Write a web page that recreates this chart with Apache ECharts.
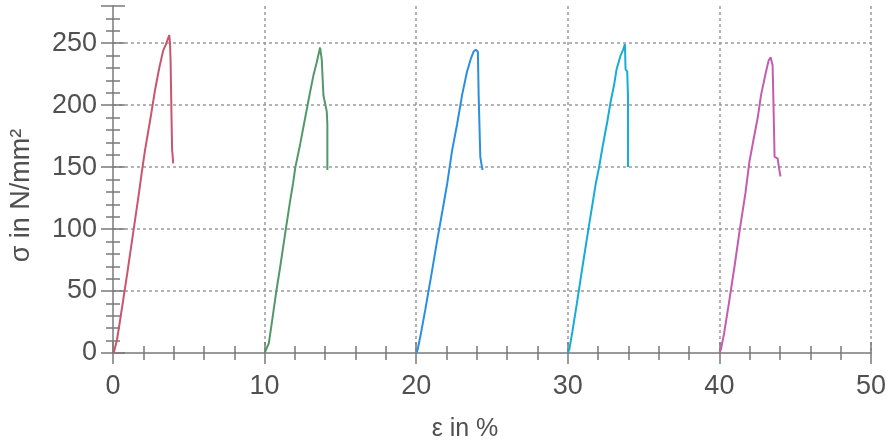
<!DOCTYPE html>
<html>
<head>
<meta charset="utf-8">
<script src="https://cdn.jsdelivr.net/npm/echarts@6/dist/echarts.min.js"></script>
<style>
  html, body { margin: 0; padding: 0; background: #fff; }
  #chart { width: 889px; height: 447px; }
</style>
</head>
<body>
<div id="chart"></div>
<script>
// strain (%) and stress (N/mm²), one pair of arrays per specimen
const eps1 = [0.05, 0.1, 0.26, 0.45, 0.7, 0.95, 1.2, 1.45, 1.7, 1.9, 2.11, 2.48, 2.77, 3.05, 3.31, 3.49, 3.71, 3.76, 3.80, 3.86, 3.90, 3.93, 3.97];
const sig1 = [0, 1.5, 10.5, 25, 45, 65, 86, 107, 128, 146, 163.5, 190, 212, 230, 244, 249, 256.6, 250, 235, 190, 163.5, 160, 153];

const eps2 = [10.0, 10.07, 10.28, 10.50, 10.76, 11.05, 11.37, 11.70, 11.88, 12.03, 12.35, 12.68, 12.96, 13.22, 13.44, 13.66, 13.77, 13.88, 14.10, 14.14, 14.14];
const sig2 = [0, 1.3, 7.9, 26.3, 48.8, 71.2, 97.5, 124, 137, 150, 168.7, 190, 208, 224, 234.6, 246.5, 237, 208, 195, 184.5, 147.6];

const eps3 = [20.0, 20.1, 20.3, 20.6, 21.0, 21.4, 21.75, 22.05, 22.37, 22.70, 23.03, 23.35, 23.62, 23.80, 23.94, 24.07, 24.12, 24.23, 24.34, 24.38];
const sig3 = [0, 3, 15, 35, 63, 92, 116, 137, 163.5, 184.6, 208.3, 227, 238, 243.5, 244.7, 243, 208, 158, 150, 147.7];

const eps4 = [30.0, 30.1, 30.3, 30.6, 31.0, 31.4, 31.85, 32.07, 32.29, 32.61, 32.83, 33.05, 33.22, 33.48, 33.66, 33.77, 33.81, 33.92, 33.97, 33.97];
const sig4 = [0, 3, 17, 40, 72, 103, 137, 150.3, 166, 187, 203, 216, 229, 240, 245, 249.2, 229, 227, 208, 150];

const eps5 = [40.0, 40.1, 40.3, 40.6, 41.0, 41.35, 41.72, 41.98, 42.2, 42.53, 42.75, 43.07, 43.25, 43.38, 43.51, 43.57, 43.64, 43.84, 43.94, 44.03];
const sig5 = [0, 3, 15, 38, 70, 100, 129.2, 154.3, 168.8, 190, 208.3, 226.8, 236, 238.6, 232, 200.4, 158.2, 157, 149, 142.4];

const colors = ['#c8566e', '#52996a', '#2b8fe0', '#17acd8', '#c45cb0'];

const curves = [[eps1, sig1], [eps2, sig2], [eps3, sig3], [eps4, sig4], [eps5, sig5]];

const font = 'Liberation Sans, Arial, sans-serif';
const axisColor = '#7a7a7a';
const textColor = '#505050';
const gridLine = { show: true, showMinLine: false, lineStyle: { color: '#9a9a9a', width: 1.5, type: [3, 3] } };

function xAx(interval, inside, len, main) {
  return {
    type: 'value', min: 0, max: 50, interval: interval, position: 'bottom',
    axisLine: { show: main, onZero: false, lineStyle: { color: axisColor, width: 1.5 } },
    axisTick: { show: true, inside: inside, length: len, lineStyle: { color: axisColor, width: 1.5 } },
    axisLabel: main ? { show: true, margin: 20, fontSize: 27, color: textColor, fontFamily: font } : { show: false },
    splitLine: main ? gridLine : { show: false },
    name: main ? 'ε in %' : '',
    nameLocation: 'middle', nameGap: 64,
    nameTextStyle: { fontSize: 25, color: textColor, fontFamily: font, padding: [0, 54, 0, 0] }
  };
}

function yAx(interval, inside, len, main) {
  return {
    type: 'value', min: 0, max: 280, interval: interval, position: 'left',
    axisLine: { show: main, onZero: false, lineStyle: { color: axisColor, width: 1.5 } },
    axisTick: { show: true, inside: inside, length: len, lineStyle: { color: axisColor, width: 1.5 } },
    axisLabel: main ? {
      show: true, margin: 16, fontSize: 27, color: textColor, fontFamily: font,
      formatter: v => (v % 50 === 0 ? String(v) : '')
    } : { show: false },
    splitLine: main ? Object.assign({}, gridLine, { showMaxLine: false }) : { show: false },
    name: main ? 'σ in N/mm²' : '',
    nameLocation: 'middle', nameGap: 78,
    nameTextStyle: { fontSize: 27, color: textColor, fontFamily: font, padding: [0, 32, 0, 0] }
  };
}

const chart = echarts.init(document.getElementById('chart'), null, { renderer: 'canvas' });
chart.setOption({
  animation: false,
  grid: { left: 111, right: 13, top: 6, bottom: 87, containLabel: false },
  xAxis: [xAx(10, false, 11, true), xAx(10, true, 11, false), xAx(2, false, 7, false), xAx(2, true, 7, false)],
  yAxis: [yAx(50, false, 12, true), yAx(50, true, 12, false), yAx(10, false, 7, false), yAx(10, true, 7, false)],
  series: curves.map((c, i) => ({
    type: 'line',
    xAxisIndex: 0, yAxisIndex: 0,
    showSymbol: false,
    smooth: false,
    lineStyle: { color: colors[i], width: 2 },
    data: c[0].map((x, k) => [x, c[1][k]])
  }))
});
</script>
</body>
</html>
